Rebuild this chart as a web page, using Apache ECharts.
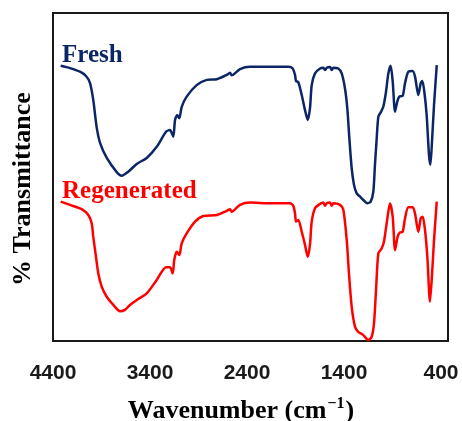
<!DOCTYPE html>
<html>
<head>
<meta charset="utf-8">
<script src="https://cdn.jsdelivr.net/npm/echarts@6/dist/echarts.min.js"></script>
<style>
html,body{margin:0;padding:0;background:#fff;}
#chart{width:462px;height:421px;}
</style>
</head>
<body>
<div id="chart"></div>
<script>
// Tick labels on the wavenumber axis
const xTickLabels = [4400, 3400, 2400, 1400, 400];

// Fresh sample: wavenumber (cm-1) and % transmittance (arbitrary, offset)
const freshWavenumber = [4321,4225,4122,4060,4019,3985,3950,3915,3846,3743,3692,3624,3537,3434,3331,3235,3194,3160,3142,3119,3098,3073,3022,2919,2815,2712,2609,2575,2558,2472,2369,2163,1974,1929,1905,1895,1871,1836,1802,1774,1751,1733,1699,1647,1613,1596,1578,1544,1527,1510,1459,1424,1390,1366,1345,1321,1297,1269,1235,1201,1160,1125,1098,1081,1063,1046,1022,995,967,943,919,898,874,851,830,795,771,737,692,668,634,609,593,572,548,524,510,493,472,444];
const freshT = [83.9,83.2,82.1,80.8,78.7,73.5,65.2,60.4,55.8,51.5,50.4,51.6,54.0,55.8,59.2,63.8,64.3,62.3,67.4,68.9,67.9,71.4,74.5,78.0,79.6,79.8,81.1,81.8,81.0,82.9,83.6,83.6,83.6,83.1,81.1,79.3,78.9,75.0,70.4,67.4,70.9,78.0,81.6,83.1,83.3,82.6,83.3,83.5,82.6,83.3,83.1,81.6,77.0,70.9,61.8,52.7,47.6,45.0,44.0,43.0,42.0,42.5,45.5,53.7,61.8,68.4,69.7,71.4,76.0,81.6,83.9,79.1,69.9,73.0,74.5,74.8,78.6,82.1,82.3,80.6,75.0,78.6,79.3,76.0,68.9,56.7,53.7,60.8,72.0,84.1];

// Regenerated sample
const regenWavenumber = [4321,4225,4104,4036,4001,3985,3957,3933,3898,3846,3778,3709,3658,3606,3521,3434,3331,3235,3194,3166,3150,3125,3098,3073,3022,2936,2851,2712,2609,2575,2558,2472,2369,2163,1957,1923,1905,1895,1871,1836,1802,1774,1751,1733,1699,1647,1613,1596,1578,1544,1527,1510,1441,1407,1372,1349,1321,1287,1253,1201,1150,1115,1091,1070,1046,1011,988,960,926,898,874,847,823,795,771,737,692,668,634,609,589,565,541,514,496,472,444];
const regenT = [42.5,41.5,40.2,38.4,35.9,31.8,25.7,20.6,16.6,13.5,11.0,9.1,9.5,11.0,12.8,14.5,18.6,22.5,22.5,20.6,24.7,27.2,26.2,29.8,32.8,36.4,38.1,38.4,39.7,40.2,39.4,41.5,42.2,42.0,42.0,41.2,38.9,36.4,36.9,33.3,29.3,25.7,29.3,36.4,40.5,41.8,42.2,41.2,42.0,42.2,41.2,42.0,41.5,40.0,30.8,20.6,10.5,4.4,2.8,1.8,0.3,1.3,5.4,15.5,26.7,28.3,30.3,35.9,42.0,37.9,27.7,31.8,33.1,33.3,37.4,40.8,40.8,38.9,33.3,37.4,37.9,33.8,25.7,12.0,18.6,30.8,42.5];

const seriesNames = ['Fresh', 'Regenerated'];
const xTitle = 'Wavenumber (cm';
const yTitle = '% Transmittance';

const NAVY = '#0b2566';
const RED = '#ff0000';

const pairs = (xs, ys) => xs.map((x, i) => [x, ys[i]]);

const chart = echarts.init(document.getElementById('chart'), null, {renderer: 'canvas'});
chart.setOption({
  animation: false,
  backgroundColor: '#fff',
  grid: {
    left: 53, right: 14, top: 13, bottom: 80,
    show: true, borderColor: '#1a1a1a', borderWidth: 2, backgroundColor: 'transparent'
  },
  xAxis: {
    type: 'value',
    inverse: true,
    min: 328,
    max: 4400,
    axisLine: {show: false},
    axisTick: {show: false},
    splitLine: {show: false},
    axisLabel: {
      customValues: xTickLabels,
      formatter: v => String(v),
      margin: 22,
      fontFamily: 'Liberation Sans',
      fontWeight: 'bold',
      fontSize: 21,
      color: '#1a1a1a'
    }
  },
  yAxis: {
    type: 'value',
    min: 0,
    max: 100,
    axisLine: {show: false},
    axisTick: {show: false},
    splitLine: {show: false},
    axisLabel: {show: false}
  },
  series: [
    {
      name: seriesNames[0], type: 'line', data: pairs(freshWavenumber, freshT),
      showSymbol: false, smooth: 0.25,
      lineStyle: {color: NAVY, width: 2.5}
    },
    {
      name: seriesNames[1], type: 'line', data: pairs(regenWavenumber, regenT),
      showSymbol: false, smooth: 0.25,
      lineStyle: {color: RED, width: 2.5}
    }
  ],
  graphic: [
    {
      type: 'text', left: 62, top: 43,
      style: {text: seriesNames[0], fill: NAVY, font: 'bold 25px "Liberation Serif"'}
    },
    {
      type: 'text', left: 62, top: 179,
      style: {text: seriesNames[1], fill: RED, font: 'bold 25px "Liberation Serif"'}
    },
    {
      type: 'text', x: 241, y: 409,
      style: {
        text: '{a|' + xTitle + '}{s|\u22121}{a|)}',
        align: 'center', verticalAlign: 'middle',
        rich: {
          a: {font: 'bold 26px "Liberation Serif"', fill: '#000', lineHeight: 30, verticalAlign: 'bottom'},
          s: {font: 'bold 16px "Liberation Serif"', fill: '#000', lineHeight: 30, verticalAlign: 'bottom', padding: [0, 1, 12, 1]}
        }
      }
    },
    {
      type: 'text', x: 23, y: 189, rotation: Math.PI / 2,
      style: {
        text: yTitle, fill: '#000', font: 'bold 26px "Liberation Serif"',
        align: 'center', verticalAlign: 'middle'
      }
    }
  ]
});
</script>
</body>
</html>
